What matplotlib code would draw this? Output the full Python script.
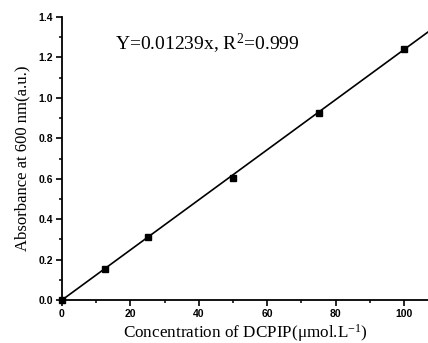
import matplotlib
matplotlib.use("Agg")
import matplotlib.pyplot as plt
import numpy as np
from matplotlib.ticker import MultipleLocator

conc = [0, 12.5, 25, 50, 75, 100]
absorb = [0.0, 0.155, 0.31, 0.605, 0.925, 1.24]
slope = 0.01239
fit_x = [0, 110]

serif = 'Liberation Serif'
plt.rcParams['mathtext.fontset'] = 'custom'
plt.rcParams['mathtext.rm'] = serif
plt.rcParams['mathtext.it'] = serif

fig = plt.figure(figsize=(4.28, 3.43), dpi=100)
ax = fig.add_axes([62/428, 1-300/343, (428-62)/428, (300-17)/343])

ax.plot(fit_x, [slope*v for v in fit_x], color='black', lw=1.2, zorder=2)
ax.plot(conc, absorb, 's', color='black', ms=4.5, zorder=3, clip_on=False)

ax.set_xlim(0, 107)
ax.set_ylim(0, 1.4)
ax.spines['top'].set_visible(False)
ax.spines['right'].set_visible(False)
for s in ['left', 'bottom']:
    ax.spines[s].set_linewidth(1.3)

ax.xaxis.set_major_locator(MultipleLocator(20))
ax.xaxis.set_minor_locator(MultipleLocator(10))
ax.yaxis.set_major_locator(MultipleLocator(0.2))
ax.yaxis.set_minor_locator(MultipleLocator(0.1))
ax.tick_params(which='major', direction='out', length=4, width=1.2, pad=2.5)
ax.tick_params(which='minor', direction='out', length=2.5, width=1.1)
ax.yaxis.set_major_formatter(matplotlib.ticker.FormatStrFormatter('%.1f'))
for lab in ax.get_xticklabels() + ax.get_yticklabels():
    lab.set_fontfamily('Liberation Sans')
    lab.set_fontweight('bold')
    lab.set_fontsize(7.5)

ax.set_xlabel('Concentration of DCPIP(\u03bcmol.L$^{-1}$)', family=serif, fontsize=12.3, labelpad=2)
ax.set_ylabel('Absorbance at 600 nm(a.u.)', family=serif, fontsize=12, labelpad=6)
ax.text(0.145, 0.905, 'Y=0.01239x, R$^{2}$=0.999', transform=ax.transAxes,
        family=serif, fontsize=14, va='center', ha='left')

fig.savefig('out.png', dpi=100)
